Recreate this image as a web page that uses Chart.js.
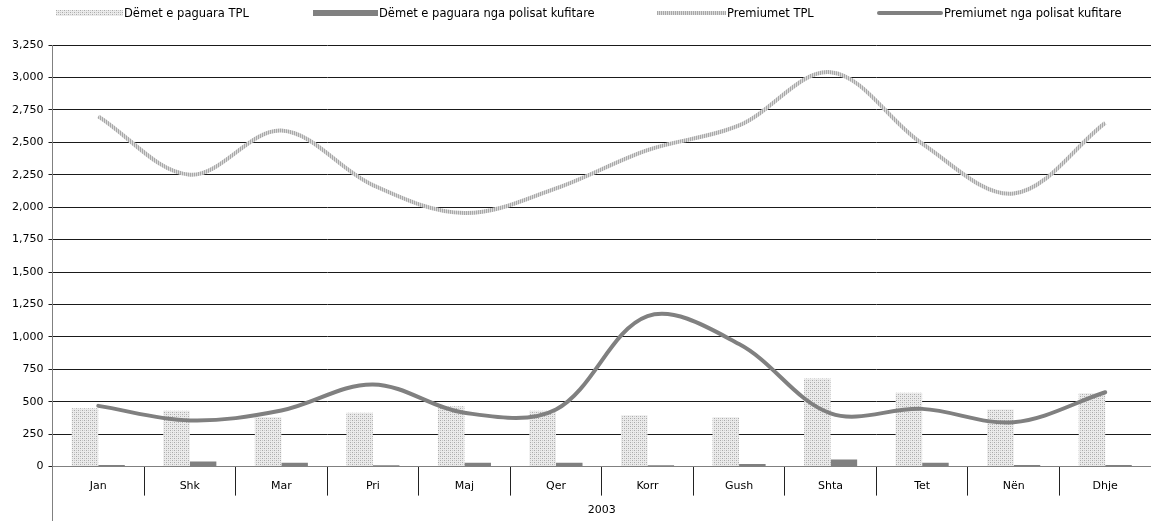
<!DOCTYPE html>
<html><head><meta charset="utf-8">
<script src="https://cdn.jsdelivr.net/npm/chart.js@4.4.1/dist/chart.umd.min.js"></script>
<style>
html,body{margin:0;padding:0;background:#fff}
#wrap{width:1151px;height:521px;position:relative;overflow:hidden}
#legend{position:absolute;left:0;top:0;width:1151px;height:28px;font-family:"DejaVu Sans",Verdana,sans-serif;font-size:11.5px;color:#000}
.li{position:absolute;top:0;height:26px;display:flex;align-items:center;white-space:nowrap}
.sw{display:inline-block;margin-right:1px}
#cwrap{position:absolute;left:0;top:0;width:1151px;height:521px}
</style>
</head><body><div id="wrap"><div id="cwrap"><canvas id="c"></canvas></div><div id="legend"></div></div>
<script>
const categories = ['Jan','Shk','Mar','Pri','Maj','Qer','Korr','Gush','Shta','Tet','Nën','Dhje'];
const yearLabel = '2003';
const seriesNames = ['Dëmet e paguara TPL','Dëmet e paguara nga polisat kufitare','Premiumet TPL','Premiumet nga polisat kufitare'];
const demetTPL = [450,430,380,415,465,430,395,380,680,570,440,565];
const demetKufitare = [12,40,30,10,30,30,10,20,55,30,12,12];
const premiumetTPL = [2700,2250,2590,2170,1955,2145,2440,2630,3040,2490,2105,2650];
const premiumetKufitare = [468,356,432,633,415,440,1160,945,410,445,342,573];
const yMin = 0, yMax = 3250, yStep = 250;

function dotPattern(){
  const c = document.createElement('canvas'); c.width = 4; c.height = 4;
  const x = c.getContext('2d');
  x.fillStyle = '#ebebeb'; x.fillRect(0,0,4,4);
  x.fillStyle = '#a9a9a9'; x.fillRect(0,0,1,1); x.fillRect(2,2,1,1);
  x.fillStyle = '#c8c8c8'; x.fillRect(2,0,1,1); x.fillRect(0,2,1,1);
  return c;
}
function stripePattern(){
  const c = document.createElement('canvas'); c.width = 2; c.height = 2;
  const x = c.getContext('2d');
  x.fillStyle = '#a8a8a8'; x.fillRect(0,0,1,2);
  x.fillStyle = '#dadada'; x.fillRect(1,0,1,2);
  return c;
}
const dotCanvas = dotPattern(), stripeCanvas = stripePattern();
const ctx0 = document.getElementById('c').getContext('2d');
const dots = ctx0.createPattern(dotCanvas,'repeat');
const stripes = ctx0.createPattern(stripeCanvas,'repeat');
const FONT = {family:'"DejaVu Sans", Verdana, sans-serif', size:11};

// HTML legend (real text)
const legendPos = [{left:56,w:67,h:6,bg:'url('+dotCanvas.toDataURL()+')'},
                   {left:313,w:65,h:6,bg:'#808080'},
                   {left:657,w:69,h:4,bg:'url('+stripeCanvas.toDataURL()+')'},
                   {left:877,w:66,h:4,bg:'#808080',r:2}];
const lg = document.getElementById('legend');
seriesNames.forEach((name,i)=>{
  const p = legendPos[i];
  const item = document.createElement('div'); item.className='li'; item.style.left = p.left+'px';
  const sw = document.createElement('span'); sw.className='sw';
  sw.style.width = p.w+'px'; sw.style.height = p.h+'px'; sw.style.background = p.bg;
  if(p.r) sw.style.borderRadius = p.r+'px';
  const t = document.createElement('span'); t.textContent = name;
  item.appendChild(sw); item.appendChild(t); lg.appendChild(item);
});

const axisExtend = {
  id:'axisExtend',
  afterDraw(chart){
    const {ctx, chartArea} = chart;
    ctx.save();
    ctx.strokeStyle = '#808080'; ctx.lineWidth = 1;
    ctx.beginPath();
    ctx.moveTo(Math.round(chartArea.left)+0.5, chartArea.bottom);
    ctx.lineTo(Math.round(chartArea.left)+0.5, chart.height);
    ctx.stroke();
    ctx.restore();
  }
};

Chart.defaults.font.family = FONT.family;
Chart.defaults.font.size = FONT.size;
Chart.defaults.color = '#000';

new Chart(document.getElementById('c'), {
  type:'bar',
  data:{
    labels: categories,
    datasets:[
      {label:seriesNames[0], data:demetTPL, backgroundColor:dots, borderWidth:0, order:2},
      {label:seriesNames[1], data:demetKufitare, backgroundColor:'#808080', borderWidth:0, order:2},
      {type:'line', label:seriesNames[2], data:premiumetTPL, borderColor:stripes, backgroundColor:stripes, borderWidth:4, pointRadius:0, tension:0.35, order:1, borderCapStyle:'butt'},
      {type:'line', label:seriesNames[3], data:premiumetKufitare, borderColor:'#808080', backgroundColor:'#808080', borderWidth:4, pointRadius:0, tension:0.35, order:0, borderCapStyle:'round'}
    ]
  },
  options:{
    responsive:true, maintainAspectRatio:false, animation:false,
    layout:{padding:{top:45,right:-5,left:7,bottom:0}},
    datasets:{bar:{categoryPercentage:0.58, barPercentage:1}},
    plugins:{ tooltip:{enabled:false}, legend:{display:false} },
    scales:{
      x:{
        offset:true,
        grid:{offset:true, drawOnChartArea:false, drawTicks:true, tickLength:29, color:'#222', lineWidth:1},
        border:{display:true, color:'#808080', width:1},
        ticks:{padding:-16, font:FONT, color:'#000', maxRotation:0, autoSkip:false},
        title:{display:true, text:yearLabel, font:FONT, color:'#000', padding:{top:27,bottom:4}}
      },
      y:{
        min:yMin, max:yMax,
        ticks:{stepSize:yStep, font:FONT, color:'#000', padding:5},
        grid:{color:'#1a1a1a', lineWidth:1, tickLength:4, drawTicks:true},
        border:{display:true, color:'#808080', width:1}
      }
    }
  },
  plugins:[axisExtend]
});
</script>
</body></html>
